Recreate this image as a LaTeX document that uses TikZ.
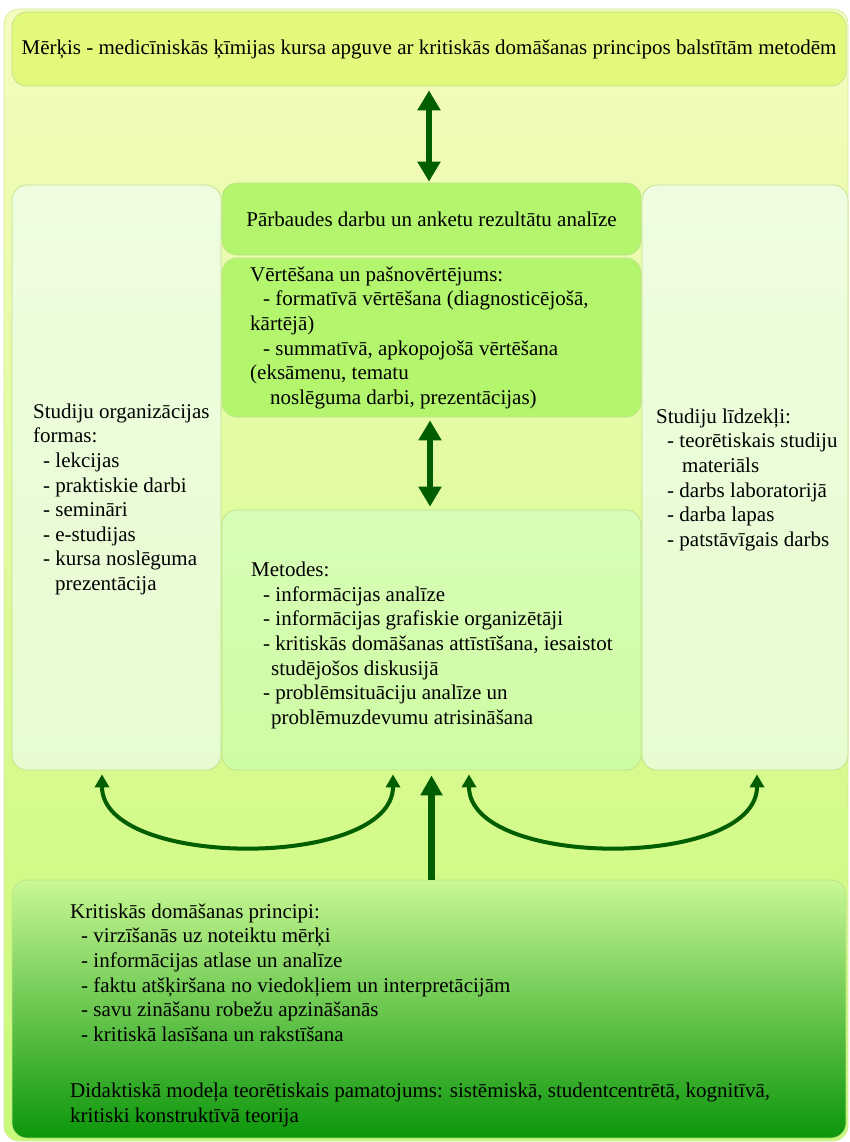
\documentclass[tikz,border=0pt]{standalone}
\usepackage{fontspec}
\setmainfont{Liberation Serif}
\usepackage{tikz}
\usetikzlibrary{positioning,arrows.meta}

\definecolor{bgtop}{RGB}{245,251,190}
\definecolor{bgbottom}{RGB}{200,250,120}
\definecolor{bgline}{RGB}{214,232,160}
\definecolor{goalfill}{RGB}{227,249,123}
\definecolor{evalfill}{RGB}{180,245,110}
\definecolor{sidetop}{RGB}{238,253,224}
\definecolor{sidebottom}{RGB}{230,252,208}
\definecolor{methodtop}{RGB}{216,253,184}
\definecolor{methodbottom}{RGB}{206,252,162}
\definecolor{basetop}{RGB}{201,248,148}
\definecolor{basebottom}{RGB}{12,150,12}
\definecolor{boxline}{RGB}{190,225,140}
\definecolor{arrowgreen}{RGB}{0,94,0}

\newcommand{\indt}[1]{\hspace*{#1pt}}

\begin{document}
\begin{tikzpicture}[x=1pt,y=-1pt,
    panel/.style={rectangle, rounded corners=15pt, draw=boxline, line width=0.7pt, inner sep=0pt},
    bgbox/.style={panel, draw=bgline, top color=bgtop, bottom color=bgbottom},
    goalbox/.style={panel, fill=goalfill},
    evalbox/.style={panel, fill=evalfill},
    sidebox/.style={panel, top color=sidetop, bottom color=sidebottom},
    methodbox/.style={panel, top color=methodtop, bottom color=methodbottom},
    basebox/.style={panel, top color=basetop, bottom color=basebottom},
    txt/.style={align=left, inner sep=0pt, anchor=north west, font=\fontsize{21}{24.6}\selectfont},
    dblarrow/.style={draw=arrowgreen, line width=6.5pt, {Triangle[width=22pt,length=20pt]}-{Triangle[width=22pt,length=20pt]}},
    uparrow/.style={draw=arrowgreen, line width=7pt, -{Triangle[width=21pt,length=20pt]}},
    curvearrow/.style={draw=arrowgreen, line width=4pt, {Triangle[width=14pt,length=13pt]}-{Triangle[width=14pt,length=13pt]}}
]
\useasboundingbox (0,0) rectangle (849,1142);
\node[bgbox, minimum width=844pt, minimum height=1132pt](backdrop) at (426,575){};

\node[goalbox, minimum width=834pt, minimum height=74pt, font=\fontsize{21}{24.6}\selectfont](goal) at (429,49)
  {Mērķis - medicīniskās ķīmijas kursa apguve ar kritiskās domāšanas principos balstītām metodēm};

\node[evalbox, minimum width=419pt, minimum height=72pt, font=\fontsize{21}{24.6}\selectfont](check) at (431.5,219)
  {Pārbaudes darbu un anketu rezultātu analīze};
\node[evalbox, minimum width=419pt, minimum height=159pt](assess) at (431.5,337.5){};
\node[sidebox, minimum width=209pt, minimum height=585pt](orgforms) at (116.5,477.5){};
\node[sidebox, minimum width=206pt, minimum height=585pt](tools) at (745,477.5){};
\node[methodbox, minimum width=419pt, minimum height=260pt](methods) at (431.5,640){};
\node[basebox, minimum width=834pt, minimum height=258pt](principles) at (429,1009){};

\node[txt](assesstext) at (250,266.5){Vērtēšana un pašnovērtējums:\\
  \indt{13}- formatīvā vērtēšana (diagnosticējošā,\\
  kārtējā)\\
  \indt{13}- summatīvā, apkopojošā vērtēšana\\
  (eksāmenu, tematu\\
  \indt{20}noslēguma darbi, prezentācijas)};

\node[txt](orgtext) at (33,403.5){Studiju organizācijas\\
  formas:\\
  \indt{10}- lekcijas\\
  \indt{10}- praktiskie darbi\\
  \indt{10}- semināri\\
  \indt{10}- e-studijas\\
  \indt{10}- kursa noslēguma\\
  \indt{22}prezentācija};

\node[txt](toolstext) at (656,408.5){Studiju līdzekļi:\\
  \indt{11}- teorētiskais studiju\\
  \indt{26}materiāls\\
  \indt{11}- darbs laboratorijā\\
  \indt{11}- darba lapas\\
  \indt{11}- patstāvīgais darbs};

\node[txt](methodtext) at (251,562){Metodes:\\
  \indt{12}- informācijas analīze\\
  \indt{12}- informācijas grafiskie organizētāji\\
  \indt{12}- kritiskās domāšanas attīstīšana, iesaistot\\
  \indt{20}studējošos diskusijā\\
  \indt{12}- problēmsituāciju analīze un\\
  \indt{20}problēmuzdevumu atrisināšana};

\node[txt](basetext) at (70,903.5){Kritiskās domāšanas principi:\\
  \indt{11}- virzīšanās uz noteiktu mērķi\\
  \indt{11}- informācijas atlase un analīze\\
  \indt{11}- faktu atšķiršana no viedokļiem un interpretācijām\\
  \indt{11}- savu zināšanu robežu apzināšanās\\
  \indt{11}- kritiskā lasīšana un rakstīšana\\[32pt]
  Didaktiskā modeļa teorētiskais pamatojums: sistēmiskā, studentcentrētā, kognitīvā,\\
  kritiski konstruktīvā teorija};

\draw[dblarrow, shorten <=4pt, shorten >=1pt] (goal.south) -- (goal.south |- check.north);
\draw[dblarrow, shorten <=3pt, shorten >=3pt] ([xshift=-1.5pt]assess.south) -- ([xshift=-1.5pt]methods.north);
\draw[uparrow, shorten >=5pt] (methods.south |- principles.north) -- (methods.south);
\draw[curvearrow] ([xshift=-14.5pt,yshift=-4pt]orgforms.south) .. controls +(0,95) and +(0,95) .. ([xshift=-38.5pt,yshift=-4pt]methods.south);
\draw[curvearrow] ([xshift=37.5pt,yshift=-4pt]methods.south) .. controls +(0,95) and +(0,95) .. ([xshift=12pt,yshift=-4pt]tools.south);
\end{tikzpicture}
\end{document}
